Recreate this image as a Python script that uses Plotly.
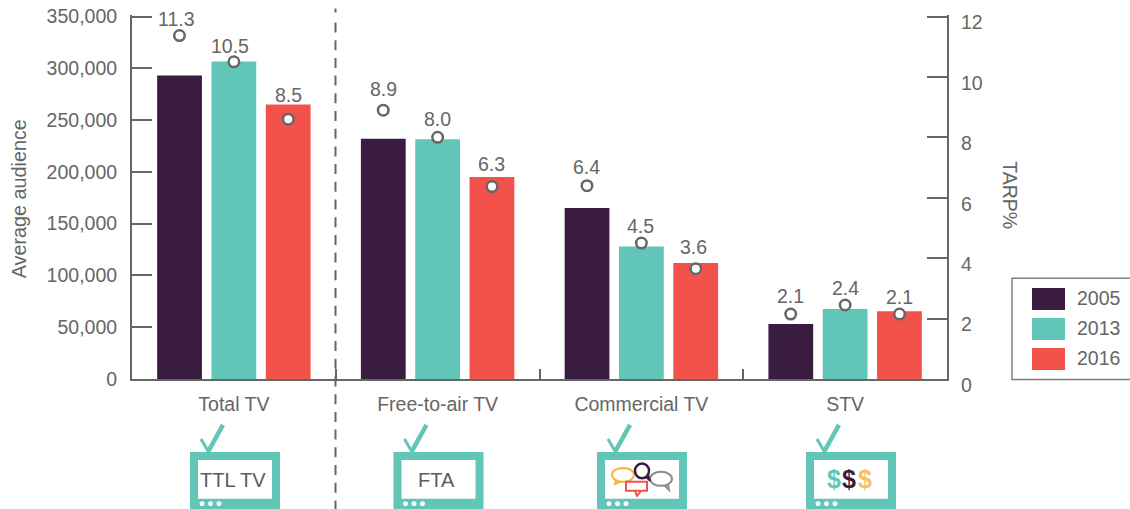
import plotly.graph_objects as go

categories = ["Total TV", "Free-to-air TV", "Commercial TV", "STV"]
years = ["2005", "2013", "2016"]
audience_2005 = [293000, 232000, 165000, 53000]
audience_2013 = [306500, 231500, 128000, 67500]
audience_2016 = [265000, 195000, 112000, 65500]
tarp_2005 = [11.37, 8.9, 6.4, 2.15]
tarp_2013 = [10.5, 8.0, 4.5, 2.45]
tarp_2016 = [8.6, 6.37, 3.65, 2.15]
label_2005 = ["11.3", "8.9", "6.4", "2.1"]
label_2013 = ["10.5", "8.0", "4.5", "2.4"]
label_2016 = ["8.5", "6.3", "3.6", "2.1"]
icon_texts = ["TTL TV", "FTA"]

DARK, TEAL, RED = "#3a1c40", "#61c6b8", "#f3524a"
GREY = "#666666"
TXT = "#666666"
FONT = "Liberation Sans, Arial, sans-serif"
W, H = 1130, 509
L, R, T, B = 132, 947, 16, 379
EXTRA = 1.5  # px above the top tick so Plotly keeps it
colors = [DARK, TEAL, RED]
audience = [audience_2005, audience_2013, audience_2016]
tarp = [tarp_2005, tarp_2013, tarp_2016]
labels = [label_2005, label_2013, label_2016]
slot = 0.267
TOP = T - EXTRA
scale = (B - TOP) / (B - T)

def px(x):
    return (x - L) / (R - L)

def py(y):
    return (B - y) / (B - TOP)

fig = go.Figure()
for yr, vals, c in zip(years, audience, colors):
    fig.add_trace(go.Bar(name=yr, x=categories, y=vals, marker=dict(color=c, line=dict(width=0)),
                         showlegend=False, hoverinfo="y"))

tx, ty = [], []
for i, series in enumerate(tarp):
    for j, v in enumerate(series):
        tx.append(j + (i - 1) * slot)
        ty.append(v)
fig.add_trace(go.Scatter(x=tx, y=ty, xaxis="x2", yaxis="y2", mode="markers", showlegend=False,
                         marker=dict(size=10.5, color="white", line=dict(color=GREY, width=2.5))))

# data labels above the TARP markers
yshifts = [[17, 21, 19, 18], [16, 18, 17, 17], [24, 23, 22, 17]]
xshifts = [[-3, 0, 0, 0], [-4, 0, -1, 0], [0, -1, -2, 0]]
ann = []
for i in range(3):
    for j in range(4):
        ann.append(dict(x=j + (i - 1) * slot, y=tarp[i][j], xref="x2", yref="y2", text=labels[i][j],
                        showarrow=False, yshift=yshifts[i][j], xshift=xshifts[i][j],
                        font=dict(family=FONT, size=19.5, color=TXT)))

def text(x, y, s, size=18, color=TXT, angle=0, bold=False, xanchor="center"):
    ann.append(dict(x=px(x), y=py(y), xref="paper", yref="paper", text=f"<b>{s}</b>" if bold else s,
                    showarrow=False, textangle=angle, xanchor=xanchor, yanchor="middle",
                    font=dict(family=FONT, size=size, color=color)))

text(19, 199, "Average audience", 19.8, angle=-90)
text(1010, 195, "TARP%", 19.5, angle=90)

shapes = []

def paper(**k):
    k.update(xref="paper", yref="paper", layer="above")
    shapes.append(k)

def line(x0, y0, x1, y1, color, width, dash=None):
    paper(type="line", x0=px(x0), y0=py(y0), x1=px(x1), y1=py(y1), line=dict(color=color, width=width, dash=dash))

def rect(x0, y0, x1, y1, fill, lc=None, lw=0):
    paper(type="rect", x0=px(x0), y0=py(y0), x1=px(x1), y1=py(y1), fillcolor=fill, line=dict(color=lc or fill, width=lw))

def ell(cx, cy, rx, ry, fill, lc, lw):
    paper(type="circle", x0=px(cx - rx), y0=py(cy - ry), x1=px(cx + rx), y1=py(cy + ry),
          fillcolor=fill, line=dict(color=lc, width=lw))

def poly(points, color, lw=2, fill="white"):
    d = "M" + " L".join(f"{px(a):.5f},{py(b):.5f}" for a, b in points)
    paper(type="path", path=d, line=dict(color=color, width=lw), fillcolor=fill)

# separator
line(335.5, 8, 335.5, 12, GREY, 2)
line(335.5, 22, 335.5, 512, GREY, 2, "10px,7.7px")

# legend
rect(1012, 278, 1140, 379.5, "white", "#808080", 1.5)
for k, (yr, c) in enumerate(zip(years, colors)):
    top = 288 + k * 30
    rect(1032, top, 1065, top + 22, c)
    text(1075, top + 10, yr, 19.5, xanchor="left")

# TV icons
for ox in (0, 203.5, 407, 616):
    rect(190 + ox, 452, 280 + ox, 515, TEAL)
    rect(198 + ox, 460, 272 + ox, 499, "white")
    line(208 + ox, 452, 223 + ox, 425, TEAL, 4.5)
    line(201 + ox, 439, 208.5 + ox, 452, TEAL, 3)
    for d in (202, 210.5, 219):
        ell(d + ox, 504, 2.5, 2.5, "white", "white", 0)

text(233, 480, icon_texts[0], 20, "#5c5c5c")
text(436, 480, icon_texts[1], 20, "#5c5c5c")

# speech bubbles
AMB, BGR = "#f6b53a", "#8c8c8c"
poly([(616, 481), (615, 484), (623, 481)], AMB)
ell(623, 475, 11, 7, "white", AMB, 2)
poly([(664, 485), (669, 490), (668, 484)], BGR)
ell(661, 479, 11, 7, "white", BGR, 2)
poly([(646, 477), (650, 481), (648, 475)], DARK)
ell(642, 471, 7, 7.5, "white", DARK, 2.5)
poly([(635, 491), (637, 496), (641, 491)], RED)
rect(626, 482, 647, 491, "white", RED, 2)

# dollar signs
text(834, 479, "$", 25, TEAL, bold=True)
text(849, 479, "$", 25, DARK, bold=True)
text(865, 479, "$", 25, "#f8bd6a", bold=True)

axis_font = dict(family=FONT, size=19.5, color=TXT)
fig.update_layout(
    width=W, height=H, autosize=False,
    margin=dict(l=L, r=W - R, t=TOP, b=H - B, pad=0),
    paper_bgcolor="white", plot_bgcolor="white",
    barmode="group", bargap=0.2, bargroupgap=0.176,
    shapes=shapes, annotations=ann, showlegend=False,
    xaxis=dict(type="category", categoryorder="array", categoryarray=categories, range=[-0.5, 3.5],
               tickson="boundaries", ticks="inside", ticklen=10, tickwidth=2, tickcolor=GREY, automargin=False,
               showline=True, linecolor=GREY, linewidth=2, showgrid=False, tickfont=axis_font,
               ticklabelstandoff=7),
    xaxis2=dict(overlaying="x", range=[-0.5, 3.5], visible=False),
    yaxis=dict(range=[0, 350000 * scale], tickvals=[0, 50000, 100000, 150000, 200000, 250000, 300000, 350000],
               tickformat=",d", ticks="inside", ticklen=20, tickwidth=2, tickcolor=GREY, automargin=False,
               showline=True, linecolor=GREY, linewidth=2, showgrid=False, zeroline=False,
               tickfont=axis_font, ticklabelstandoff=9),
    yaxis2=dict(overlaying="y", side="right", range=[0, 12 * scale], tickvals=[0, 2, 4, 6, 8, 10, 12],
                ticks="inside", ticklen=20, tickwidth=2, tickcolor=GREY, automargin=False,
                showline=True, linecolor=GREY, linewidth=2, showgrid=False, zeroline=False,
                tickfont=axis_font, ticklabelstandoff=8, ticklabelshift=6),
)
fig.write_html("out.html", post_script="document.body.style.margin='0';document.body.style.overflow='hidden';",
               config=dict(displayModeBar=False))
